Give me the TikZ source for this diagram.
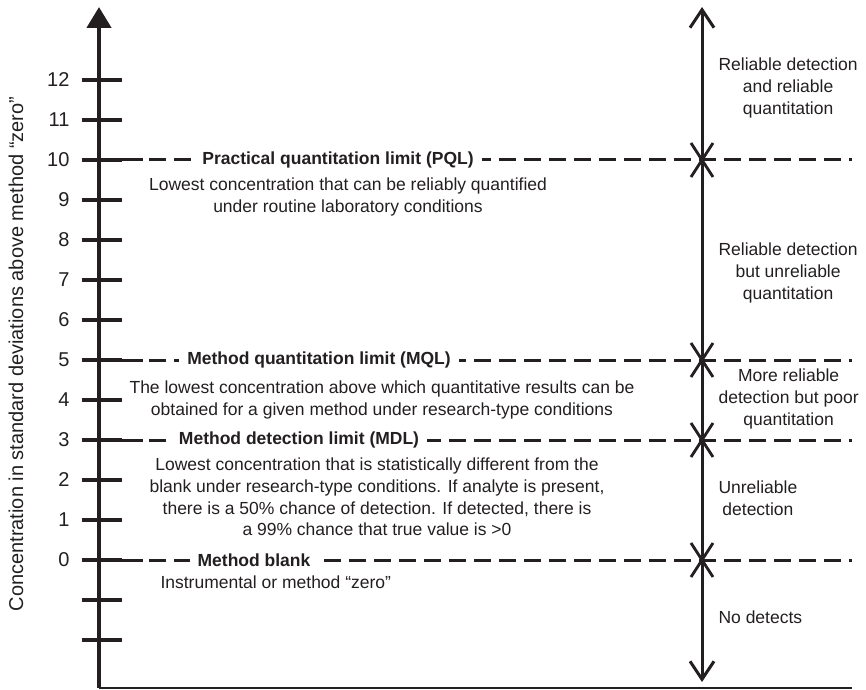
\documentclass[tikz,border=0pt]{standalone}
\usepackage{fontspec}
\setmainfont{Liberation Sans}
\usepackage{tikz}
\usetikzlibrary{arrows.meta}
\definecolor{ink}{HTML}{231F20}

\begin{document}
\begin{tikzpicture}[x=1pt,y=1pt,
        axisline/.style={ink,line width=4.5pt},
        tickmark/.style={ink,line width=4pt},
        levelsolid/.style={ink,line width=3pt},
        leveldash/.style={ink,line width=3pt,dash pattern=on 17pt off 8pt},
        xmark/.style={ink,line width=2.8pt},
        ticklabel/.style={text=ink,anchor=east,font=\fontsize{20}{24}\selectfont},
        limlabel/.style={fill=white,inner xsep=8pt,inner ysep=2pt,text=ink,font=\fontsize{17.5}{21}\selectfont\bfseries},
        desc/.style={text=ink,align=center,font=\fontsize{17.5}{21.7}\selectfont},
        zone/.style={text=ink,align=center,anchor=west,font=\fontsize{17.5}{21.7}\selectfont}]
        \useasboundingbox (0,0) rectangle (866,689);

        % axis and scale
        \coordinate (origin) at (99,1.5);
        \coordinate (ytop) at (99,682);
        \coordinate (xend) at (852,1.5);
        \draw[ink,line width=2pt] (origin) -- (xend);
        \draw[axisline,-{Triangle[width=24pt,length=21pt]}] (origin) -- (ytop);
        \foreach \lev in {-2,...,12}
            \draw[tickmark] (82,{129+40*\lev}) -- (122,{129+40*\lev});
        \foreach \lev in {0,...,12}
            \node[ticklabel] (num\lev) at (73,{129+40*\lev}) {\lev};
        \node[rotate=90,text=ink,font=\fontsize{20}{24}\selectfont] (ylabel) at (16,335)
            {Concentration in standard deviations above method “zero”};

        % limits
        \foreach \lev in {10,5,3,0} {
            \draw[levelsolid] (99,{129+40*\lev}) -- (143,{129+40*\lev});
            \draw[leveldash] (149,{129+40*\lev}) -- (852,{129+40*\lev});
        }
        \node[limlabel] (pql) at (338,529) {Practical quantitation limit (PQL)};
        \node[limlabel] (mql) at (319,329) {Method quantitation limit (MQL)};
        \node[limlabel] (mdl) at (299,249) {Method detection limit (MDL)};
        \node[limlabel] (blank) at (254,129) {Method blank};

        \node[desc] (pqltext) at (348,492) {Lowest concentration that can be reliably quantified\\
            under routine laboratory conditions};
        \node[desc] (mqltext) at (382,289) {The lowest concentration above which quantitative results can be\\
            obtained for a given method under research-type conditions};
        \node[desc] (mdltext) at (377,192) {Lowest concentration that is statistically different from the\\
            blank under research-type conditions. If analyte is present,\\
            there is a 50\% chance of detection. If detected, there is\\
            a 99\% chance that true value is >0};
        \node[desc,anchor=west] (blanktext) at (157,107) {Instrumental or method “zero”};

        % zones
        \coordinate (ztop) at (702,682);
        \coordinate (zbot) at (702,7);
        \draw[ink,line width=3pt,{Straight Barb[length=18pt,width=24pt]}-{Straight Barb[length=18pt,width=24pt]}] (zbot) -- (ztop);
        \foreach \lev in {10,5,3,0} {
            \coordinate (cross\lev) at (702,{129+40*\lev});
            \draw[xmark] ([shift={(-11,-17)}]cross\lev) -- ([shift={(11,17)}]cross\lev)
                ([shift={(-11,17)}]cross\lev) -- ([shift={(11,-17)}]cross\lev);
        }
        \node[zone] (zone1) at (715,601) {Reliable detection\\and reliable\\quantitation};
        \node[zone] (zone2) at (715,416) {Reliable detection\\but unreliable\\quantitation};
        \node[zone] (zone3) at (715,290) {More reliable\\detection but poor\\quantitation};
        \node[zone] (zone4) at (715,191) {Unreliable\\detection};
        \node[zone] (zone5) at (715,72) {No detects};
    \end{tikzpicture}
\end{document}
